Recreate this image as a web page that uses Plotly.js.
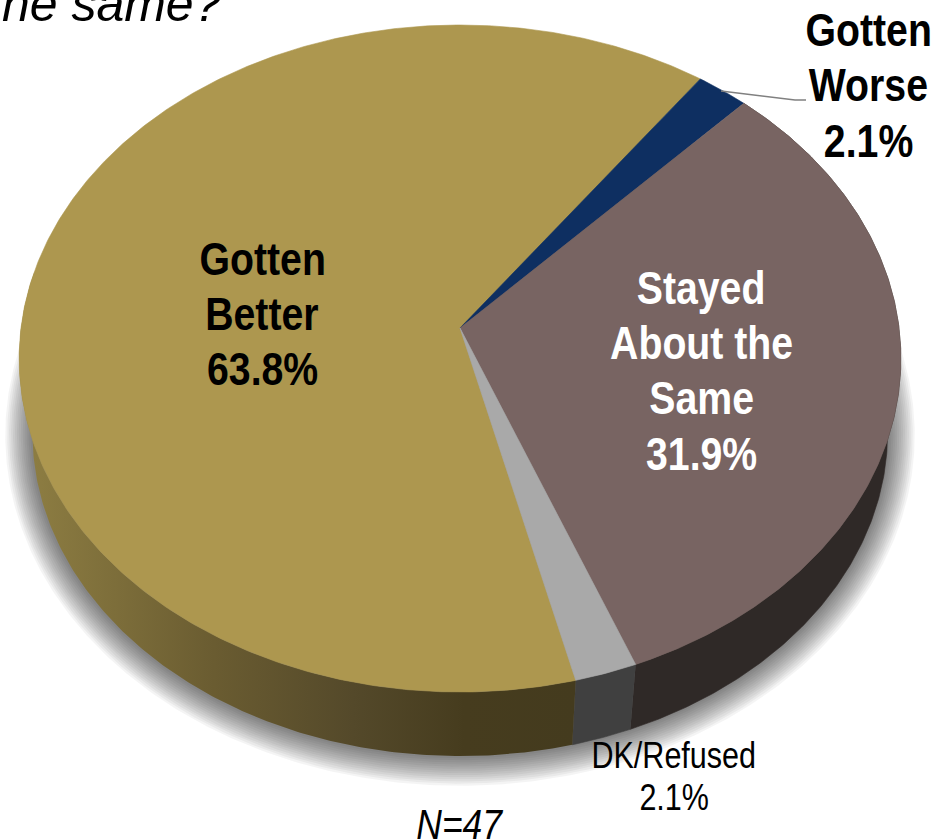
<!DOCTYPE html>
<html>
<head>
<meta charset="utf-8">
<script src="https://cdn.plot.ly/plotly-3.0.1.min.js"></script>
<style>html,body{margin:0;padding:0;background:#fff;overflow:hidden}#chart{width:939px;height:839px}</style>
</head>
<body>
<div id="chart"></div>
<script>
// ---- data ----
const categories = ["Gotten Better", "Gotten Worse", "Stayed About the Same", "DK/Refused"];
const values = [63.8, 2.1, 31.9, 2.1];
const sampleNote = "=47";
const questionEnd = "the same?";

// ---- styles ----
const topColors = ["#AD974F", "#0E2F61", "#786462", "#A9A9A9"];
const sideColors = ["#6a5c30", "#0a2145", "#2F2927", "#404040"];
const startAngle = 166.1;            // degrees clockwise from far side of the disc
const cx = 460, cy = 328, a = 439, b = 330.7, k = 0.0915; // perspective disc
const depth = 75, baseScale = 0.97;

function proj(deg, grow = 0, dx = 0, dy = 0, sc = 1) {
  const t = deg * Math.PI / 180, u = Math.sin(t), v = Math.cos(t), w = 1 + k * v;
  return [cx + dx + (a * u / w) * sc * (1 + grow / 441), cy + dy - (b * v / w) * sc * (1 + grow / 333)];
}
function arc(d0, d1, f) {
  const n = Math.max(2, Math.ceil(Math.abs(d1 - d0) / 0.5)), out = [];
  for (let i = 0; i <= n; i++) out.push(f(d0 + (d1 - d0) * i / n));
  return out;
}
const total = values.reduce((s, x) => s + x, 0);
let acc = startAngle;
const spans = values.map(x => { const s = [acc, acc + x / total * 360]; acc = s[1]; return s; });

const traces = [];
const poly = (pts, color, extra = {}) => traces.push(Object.assign({
  type: "scatter", mode: "lines", x: pts.map(p => p[0]), y: pts.map(p => p[1]),
  fill: "toself", fillcolor: color, line: {width: 0.6, color: color}, hoverinfo: "skip", showlegend: false
}, extra));

// soft drop shadow under the disc
const shadowSteps = [28, 26, 24, 22, 20, 18, 16, 14, 12, 10, 8, 6, 4, 2];
shadowSteps.forEach(g => {
  const pts = arc(0, 360, d => proj(d, g, 0, depth, baseScale));
  poly(pts, "rgba(0,0,0,0.045)", {line: {width: 0}});
});

// side wall of each slice that faces the viewer
function wall(d0, d1, color, extra) {
  const top = arc(d0, d1, d => proj(d));
  const bot = arc(d1, d0, d => proj(d, 0, 0, depth, baseScale));
  poly(top.concat(bot), color, extra);
}
const visibleEnd = 280;
wall(spans[2][0], spans[2][1], sideColors[2]);
wall(spans[3][0], spans[3][1], sideColors[3]);
wall(spans[0][0], visibleEnd, sideColors[0], {
  line: {width: 0},
  fillgradient: {type: "horizontal", colorscale: [[0, "#8F7F43"], [0.35, "#6A5C31"], [0.6, "#54492A"], [0.8, "#463C1E"], [1, "#443B1E"]]}
});

// top face
values.forEach((_, i) => {
  const pts = [[cx, cy]].concat(arc(spans[i][0], spans[i][1], d => proj(d)));
  pts.push([cx, cy]);
  poly(pts, topColors[i]);
});

// leader line of the small slice
traces.push({type: "scatter", mode: "lines", x: [721, 795, 806], y: [91, 100, 100],
  line: {color: "#808080", width: 1.6}, hoverinfo: "skip", showlegend: false});

// labels
const sans = "'Liberation Sans',Arial,sans-serif";
const annotations = [];
const squeeze = [];
const put = (text, x, y, size, color, bold, sq) => {
  squeeze.push(sq);
  annotations.push({
    text: bold ? "<b>" + text + "</b>" : text, x, y, xref: "x", yref: "y", xanchor: "center", yanchor: "middle",
    showarrow: false, font: {family: sans, size, color}
  });
};
const pct = i => values[i].toFixed(1) + "%";
const boldSq = 0.835, plainSq = 0.825;
[["Gotten", 262, 258.5], ["Better", 262, 313.5], [pct(0), 262, 368.5]].forEach(r => put(r[0], r[1], r[2], 47, "#000", true, boldSq));
[["Gotten", 868, 29.5], ["Worse", 868, 84.5], [pct(1), 868, 140]].forEach(r => put(r[0], r[1], r[2], 47, "#000", true, boldSq));
[["Stayed", 701, 287.5], ["About the", 701, 342.5], ["Same", 701, 397.5], [pct(2), 701, 453.5]].forEach(r => put(r[0], r[1], r[2], 47, "#fff", true, boldSq));
put(categories[3], 673.5, 755, 37, "#000", false, plainSq);
put(pct(3), 673.5, 797, 37, "#000", false, plainSq);
put("<i>N</i><i>" + sampleNote + "</i>", 460, 823.5, 43, "#000", false, plainSq);
put("<i>" + questionEnd + "</i>", 105, 4, 50, "#000", false, 1);

Plotly.newPlot("chart", traces, {
  width: 939, height: 839,
  margin: {l: 0, r: 0, t: 0, b: 0},
  paper_bgcolor: "#fff", plot_bgcolor: "#fff",
  showlegend: false,
  xaxis: {range: [0, 939], visible: false, fixedrange: true},
  yaxis: {range: [839, 0], visible: false, fixedrange: true},
  annotations
}, {staticPlot: true, displayModeBar: false}).then(() => {
  // the labels are set in a condensed cut: narrow each text about its own centre
  document.querySelectorAll(".annotation-text").forEach((el, i) => {
    if (squeeze[i] === 1) return;
    const box = el.getBBox(), c = box.x + box.width / 2;
    el.setAttribute("transform", `translate(${c} 0) scale(${squeeze[i]} 1) translate(${-c} 0)`);
  });
});
</script>
</body>
</html>
